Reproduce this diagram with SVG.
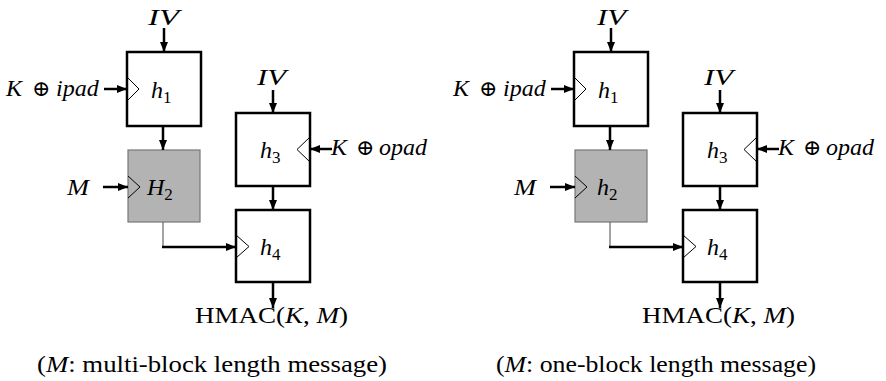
<svg xmlns="http://www.w3.org/2000/svg" width="886" height="381" viewBox="0 0 886 381" font-family="Liberation Serif, serif">
<style>
.box{fill:#fff;stroke:#000;stroke-width:2.5}
.gbox{fill:#b3b3b3;stroke:#777;stroke-width:1.2}
.tri{fill:none;stroke:#000;stroke-width:1}
.ar{fill:none;stroke:#000;stroke-width:2.5;marker-end:url(#ah)}
.thin{fill:none;stroke:#666;stroke-width:1.2}
.t{font-family:'Liberation Serif',serif;font-size:24px;fill:#000}
.i{font-style:italic}
.n{font-style:normal}
.sub{font-size:17px;font-style:normal}
.op{font-family:'DejaVu Serif',serif;font-style:normal;font-size:22px}
</style>
<defs>
<marker id="ah" markerUnits="userSpaceOnUse" markerWidth="11" markerHeight="9" refX="10" refY="4.5" orient="auto">
<path d="M0,0.5 L10,4.5 L0,8.5 z" fill="#000"/>
</marker>
</defs>

<!-- LEFT DIAGRAM -->
<g id="left">
<g id="L-h1">
<rect class="box" x="127" y="52" width="74" height="74"/>
<path class="tri" d="M127,77 L139,89 L127,101"/>
<text class="t i" x="151" y="98">h<tspan class="sub" dy="5">1</tspan></text>
</g>
<g id="L-H2">
<rect class="gbox" x="128" y="150" width="72" height="72"/>
<path class="tri" d="M128,176 L140,187 L128,198"/>
<text class="t i" x="147" y="195">H<tspan class="sub" dy="5">2</tspan></text>
</g>
<g id="L-h3">
<rect class="box" x="236" y="113" width="74" height="73"/>
<path class="tri" d="M310,137 L297,149.5 L310,162"/>
<text class="t i" x="260" y="158">h<tspan class="sub" dy="5">3</tspan></text>
</g>
<g id="L-h4">
<rect class="box" x="236" y="210" width="74" height="72"/>
<path class="tri" d="M236,235 L249,246.5 L236,258"/>
<text class="t i" x="260" y="255">h<tspan class="sub" dy="5">4</tspan></text>
</g>
<g id="L-labels">
<text class="t i" x="148" y="25" textLength="31" lengthAdjust="spacingAndGlyphs">IV</text>
<text class="t i" x="257" y="85" textLength="29" lengthAdjust="spacingAndGlyphs">IV</text>
<text class="t" y="96"><tspan class="i" x="6">K</tspan><tspan class="op" x="32">⊕</tspan><tspan class="i" x="56">ipad</tspan></text>
<text class="t i" x="67" y="195" textLength="22" lengthAdjust="spacingAndGlyphs">M</text>
<text class="t" y="155"><tspan class="i" x="331">K</tspan><tspan class="op" x="356">⊕</tspan><tspan class="i" x="379">opad</tspan></text>
<text class="t" x="195" y="323" textLength="153" lengthAdjust="spacingAndGlyphs">HMAC(<tspan class="i">K</tspan>, <tspan class="i">M</tspan>)</text>
<text class="t" x="37" y="372" textLength="350" lengthAdjust="spacingAndGlyphs">(<tspan class="i">M</tspan>: multi-block length message)</text>
</g>
<g id="L-connectors">
<line class="ar" x1="104" y1="89" x2="127" y2="89"/>
<line class="ar" x1="164" y1="28" x2="164" y2="52"/>
<line class="ar" x1="163" y1="126" x2="163" y2="150"/>
<line class="ar" x1="103" y1="187" x2="128" y2="187"/>
<line class="ar" x1="273" y1="90" x2="273" y2="113"/>
<line class="ar" x1="332" y1="149" x2="310" y2="149"/>
<line class="ar" x1="273" y1="186" x2="273" y2="210"/>
<line class="thin" x1="163" y1="222" x2="163" y2="247"/>
<line class="ar" x1="162" y1="247" x2="236" y2="247"/>
<line class="ar" x1="273" y1="282" x2="273" y2="308"/>
</g>
</g>

<!-- RIGHT DIAGRAM -->
<g id="right" transform="translate(447,0)">
<g id="R-h1">
<rect class="box" x="127" y="52" width="74" height="74"/>
<path class="tri" d="M127,77 L139,89 L127,101"/>
<text class="t i" x="151" y="98">h<tspan class="sub" dy="5">1</tspan></text>
</g>
<g id="R-h2">
<rect class="gbox" x="128" y="150" width="72" height="72"/>
<path class="tri" d="M128,176 L140,187 L128,198"/>
<text class="t i" x="150" y="195">h<tspan class="sub" dy="5">2</tspan></text>
</g>
<g id="R-h3">
<rect class="box" x="236" y="113" width="74" height="73"/>
<path class="tri" d="M310,137 L297,149.5 L310,162"/>
<text class="t i" x="260" y="158">h<tspan class="sub" dy="5">3</tspan></text>
</g>
<g id="R-h4">
<rect class="box" x="236" y="210" width="74" height="72"/>
<path class="tri" d="M236,235 L249,246.5 L236,258"/>
<text class="t i" x="260" y="255">h<tspan class="sub" dy="5">4</tspan></text>
</g>
<g id="R-labels">
<text class="t i" x="150" y="25" textLength="29" lengthAdjust="spacingAndGlyphs">IV</text>
<text class="t i" x="257" y="85" textLength="29" lengthAdjust="spacingAndGlyphs">IV</text>
<text class="t" y="96"><tspan class="i" x="6">K</tspan><tspan class="op" x="32">⊕</tspan><tspan class="i" x="56">ipad</tspan></text>
<text class="t i" x="67" y="195" textLength="22" lengthAdjust="spacingAndGlyphs">M</text>
<text class="t" y="155"><tspan class="i" x="331">K</tspan><tspan class="op" x="356">⊕</tspan><tspan class="i" x="379">opad</tspan></text>
<text class="t" x="195" y="323" textLength="153" lengthAdjust="spacingAndGlyphs">HMAC(<tspan class="i">K</tspan>, <tspan class="i">M</tspan>)</text>
<text class="t" x="49" y="372" textLength="320" lengthAdjust="spacingAndGlyphs">(<tspan class="i">M</tspan>: one-block length message)</text>
</g>
<g id="R-connectors">
<line class="ar" x1="104" y1="89" x2="127" y2="89"/>
<line class="ar" x1="164" y1="28" x2="164" y2="52"/>
<line class="ar" x1="163" y1="126" x2="163" y2="150"/>
<line class="ar" x1="103" y1="187" x2="128" y2="187"/>
<line class="ar" x1="273" y1="90" x2="273" y2="113"/>
<line class="ar" x1="332" y1="149" x2="310" y2="149"/>
<line class="ar" x1="273" y1="186" x2="273" y2="210"/>
<line class="thin" x1="163" y1="222" x2="163" y2="247"/>
<line class="ar" x1="162" y1="247" x2="236" y2="247"/>
<line class="ar" x1="273" y1="282" x2="273" y2="308"/>
</g>
</g>
</svg>
